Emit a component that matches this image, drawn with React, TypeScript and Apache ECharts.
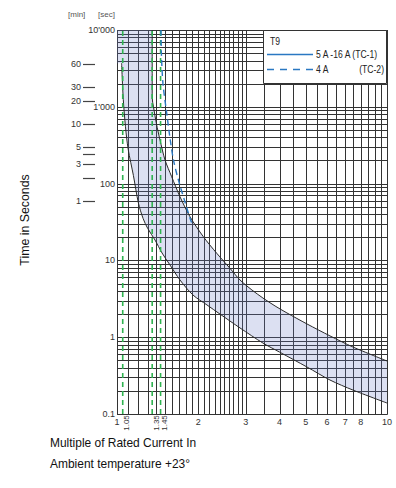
import React, { useEffect, useRef } from "react";
import * as echarts from "echarts";

const FONT = "'Liberation Sans', Arial, sans-serif";

// Trip curve band (x = multiple of In, y = seconds)
const upperCurve: [number, number][] = [
  [1.35, 10000], [1.35, 1300], [1.365, 1000], [1.4, 600], [1.443, 370], [1.506, 203],
  [1.594, 123], [1.711, 67.5], [1.864, 37], [2.087, 20.4], [2.34, 12.4], [2.62, 7.9],
  [2.855, 5.56], [3.16, 4.12], [3.47, 3.24], [3.85, 2.55], [4.26, 2.07], [5.05, 1.49],
  [6.15, 1.04], [7.48, 0.745], [10, 0.49],
];
const lowerCurve: [number, number][] = [
  [1.04, 3700], [1.055, 1250], [1.075, 550], [1.1, 280], [1.15, 128], [1.2, 56], [1.25, 35],
  [1.3, 26], [1.383, 18.4], [1.468, 12.5], [1.572, 8.7], [1.711, 5.56], [1.912, 3.54],
  [2.154, 2.63], [2.407, 2.0], [2.855, 1.32], [3.47, 0.84], [4.0, 0.64], [5.05, 0.41],
  [6.15, 0.277], [7.48, 0.205], [10, 0.139],
];
const bandTopLeft: [number, number][] = [[1, 3700], [1, 10000]];
// 4 A (TC-2)
const tc2Curve: [number, number][] = [
  [1.455, 10000], [1.46, 5000], [1.48, 2000], [1.53, 800], [1.57, 400], [1.62, 200],
  [1.69, 110], [1.79, 56], [1.89, 31], [1.92, 30],
];
const greenLines = [1.05, 1.35, 1.45];
const xTickLabels = [1, 2, 3, 4, 5, 6, 7, 8, 10];
const xRotLabels = [1.05, 1.35, 1.45];
const minuteTicks = [60, 30, 20, 10, 5, 4, 3, 2, 1];
const minuteLabels = ["60", "30", "20", "10", "5", "", "3", "", "1"];
const xGrid = [
  1, 1.1, 1.2, 1.3, 1.4, 1.5, 1.6, 1.7, 1.8, 1.9, 2, 2.1, 2.2, 2.3, 2.4, 2.5, 2.6, 2.7, 2.8, 2.9,
  3, 3.5, 4, 4.5, 5, 5.5, 6, 6.5, 7, 7.5, 8, 8.5, 9, 9.5, 10,
];
const yGridMultipliers = [1, 2, 3, 4, 5, 6, 7, 8, 9];
const yDecades = [0.1, 1, 10, 100, 1000];
const Y_MIN = 0.1;
const Y_MAX = 10000;
const X_MIN = 1;
const X_MAX = 10;

const yGrid = yDecades
  .flatMap((d) => yGridMultipliers.map((m) => +(d * m).toPrecision(6)))
  .concat([Y_MAX]);

const GRID_COLOR = "#333";
const GREEN = "#2fb350";
const BLUE = "#2a78c2";
const CURVE = "#2a2a2a";
const NARROW = 0.86;

function fmtSec(v: number) {
  if (v >= 1000) return String(Math.round(v)).replace(/\B(?=(\d{3})+(?!\d))/g, "'");
  return String(+v.toPrecision(3));
}

export default function App() {
  const ref = useRef<HTMLDivElement>(null);
  useEffect(() => {
    if (!ref.current) return;
    const chart = echarts.init(ref.current, undefined, { renderer: "svg" });
    const crisp = (v: number) => Math.round(v) + 0.5;
    const option: any = {
      animation: false,
      grid: { left: 117, right: 9, top: 30, bottom: 74, containLabel: false, outerBoundsMode: "none" },
      xAxis: {
        type: "log", logBase: 10, min: X_MIN, max: X_MAX,
        axisLine: { show: false }, axisTick: { show: false }, axisLabel: { show: false },
        splitLine: { show: false },
      },
      yAxis: {
        type: "log", logBase: 10, min: Y_MIN, max: Y_MAX,
        axisLine: { show: false }, axisTick: { show: false }, splitLine: { show: false },
        axisLabel: { show: true, fontSize: 9, color: "#333", fontFamily: FONT, margin: 2, formatter: fmtSec },
      },
      series: [
        {
          type: "custom", name: "vgrid", z: 1, silent: true,
          data: xGrid.map((v) => [v, 1]),
          renderItem: (_p: any, api: any) => {
            const a = api.coord([api.value(0), Y_MIN]);
            const b = api.coord([api.value(0), Y_MAX]);
            const x = crisp(a[0]);
            return { type: "line", shape: { x1: x, y1: a[1] + 0.5, x2: x, y2: b[1] }, style: { stroke: GRID_COLOR, lineWidth: 1 } };
          },
        },
        {
          type: "custom", name: "hgrid", z: 1, silent: true,
          data: yGrid.map((v) => [1, v]),
          renderItem: (_p: any, api: any) => {
            const a = api.coord([X_MIN, api.value(1)]);
            const b = api.coord([X_MAX, api.value(1)]);
            const y = crisp(a[1]);
            return { type: "line", shape: { x1: a[0], y1: y, x2: b[0] + 0.5, y2: y }, style: { stroke: GRID_COLOR, lineWidth: 1 } };
          },
        },
        {
          type: "custom", name: "band", z: 2, silent: true,
          data: [[1.5, 10]],
          renderItem: (_p: any, api: any) => {
            const pts = [...upperCurve, ...[...lowerCurve].reverse(), ...bandTopLeft].map((d) => api.coord(d));
            return { type: "polygon", shape: { points: pts }, style: { fill: "rgba(110,125,200,0.24)", stroke: "none" } };
          },
        },
        {
          type: "line", name: "upper", z: 3, data: upperCurve, showSymbol: false, smooth: 0.3,
          lineStyle: { color: CURVE, width: 1 }, silent: true,
        },
        {
          type: "line", name: "lower", z: 3, data: lowerCurve, showSymbol: false, smooth: 0.3,
          lineStyle: { color: CURVE, width: 1 }, silent: true,
        },
        {
          type: "custom", name: "green", z: 4, silent: true,
          data: greenLines.map((v) => [v, 1]),
          renderItem: (_p: any, api: any) => {
            const a = api.coord([api.value(0), Y_MIN]);
            const b = api.coord([api.value(0), Y_MAX]);
            return { type: "line", shape: { x1: a[0], y1: a[1], x2: a[0], y2: b[1] }, style: { stroke: GREEN, lineWidth: 1.6, lineDash: [5, 4] } };
          },
        },
        {
          type: "line", name: "tc2", z: 5, data: tc2Curve, showSymbol: false, smooth: 0.3,
          lineStyle: { color: BLUE, width: 1.4, type: [6, 4] }, silent: true,
        },
        {
          type: "custom", name: "xlabels", z: 6, silent: true, clip: false,
          data: xTickLabels.map((v) => [v, Y_MIN]),
          renderItem: (_p: any, api: any) => {
            const p = api.coord([api.value(0), Y_MIN]);
            return {
              type: "text", x: p[0], y: p[1] + 8,
              style: { text: String(api.value(0)), fill: "#333", fontSize: 9, fontFamily: FONT, align: "center", verticalAlign: "middle" },
            };
          },
        },
        {
          type: "custom", name: "xrotlabels", z: 6, silent: true, clip: false,
          data: xRotLabels.map((v) => [v, Y_MIN]),
          renderItem: (_p: any, api: any) => {
            const p = api.coord([api.value(0), Y_MIN]);
            return {
              type: "text", x: p[0] + 4, y: p[1] + 9, rotation: Math.PI / 2,
              style: { text: String(api.value(0)), fill: "#333", fontSize: 8, fontFamily: FONT, align: "center", verticalAlign: "middle" },
            };
          },
        },
        {
          type: "custom", name: "minutes", z: 6, silent: true, clip: false,
          data: minuteTicks.map((m, i) => [X_MIN, m * 60, i]),
          renderItem: (_p: any, api: any) => {
            const p = api.coord([X_MIN, api.value(1)]);
            const lbl = minuteLabels[api.value(2)];
            const y = crisp(p[1]);
            return {
              type: "group",
              children: [
                { type: "line", shape: { x1: p[0] - 34, y1: y, x2: p[0] - 22, y2: y }, style: { stroke: "#444", lineWidth: 1.2 } },
                { type: "text", x: p[0] - 36, y: p[1], style: { text: lbl, fill: "#333", fontSize: 9, fontFamily: FONT, align: "right", verticalAlign: "middle" } },
              ],
            };
          },
        },
      ],
      graphic: [
        { type: "text", x: 68, y: 14, z: 100, style: { text: "[min]", fill: "#555", fontSize: 8, fontFamily: FONT, verticalAlign: "middle" } },
        { type: "text", x: 98, y: 14, z: 100, style: { text: "[sec]", fill: "#555", fontSize: 8, fontFamily: FONT, verticalAlign: "middle" } },
        {
          type: "text", x: 25, y: 220, z: 100, rotation: Math.PI / 2, scaleX: 0.95,
          style: { text: "Time in Seconds", fill: "#111", fontSize: 13, fontFamily: FONT, align: "center", verticalAlign: "middle" },
        },
        { type: "text", x: 50, y: 443, z: 100, scaleX: 0.92, style: { text: "Multiple of Rated Current In", fill: "#111", fontSize: 13, fontFamily: FONT, verticalAlign: "middle" } },
        { type: "text", x: 50, y: 464, z: 100, scaleX: 0.92, style: { text: "Ambient temperature +23°", fill: "#111", fontSize: 13, fontFamily: FONT, verticalAlign: "middle" } },
        { type: "rect", z: 100, shape: { x: 263.5, y: 30.5, width: 123, height: 53 }, style: { fill: "#fff", stroke: "#333", lineWidth: 1 } },
        { type: "text", z: 101, x: 270, y: 42, scaleX: NARROW, style: { text: "T9", fill: "#222", fontSize: 10, fontFamily: FONT, verticalAlign: "middle" } },
        { type: "line", z: 101, shape: { x1: 267, y1: 54.5, x2: 313, y2: 54.5 }, style: { stroke: BLUE, lineWidth: 1.4 } },
        { type: "text", z: 101, x: 316, y: 55, scaleX: NARROW, style: { text: "5 A -16 A (TC-1)", fill: "#222", fontSize: 10, fontFamily: FONT, verticalAlign: "middle" } },
        { type: "line", z: 101, shape: { x1: 267, y1: 69.5, x2: 313, y2: 69.5 }, style: { stroke: BLUE, lineWidth: 1.4, lineDash: [7, 6] } },
        { type: "text", z: 101, x: 316, y: 70, scaleX: NARROW, style: { text: "4 A", fill: "#222", fontSize: 10, fontFamily: FONT, verticalAlign: "middle" } },
        { type: "text", z: 101, x: 384, y: 70, scaleX: NARROW, style: { text: "(TC-2)", fill: "#222", fontSize: 10, fontFamily: FONT, align: "right", verticalAlign: "middle" } },
      ],
    };
    chart.setOption(option);
    return () => chart.dispose();
  }, []);
  return (
    <div
      ref={ref}
      style={{ position: "fixed", left: 0, top: 0, width: 396, height: 488, background: "#fff" }}
    />
  );
}
